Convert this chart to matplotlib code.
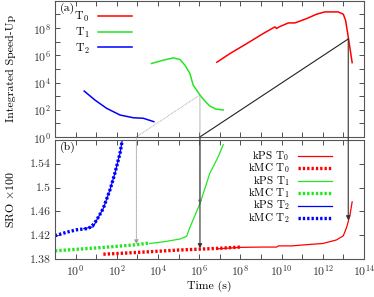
import numpy as np
import matplotlib
matplotlib.use("Agg")
import matplotlib.pyplot as plt
from matplotlib.patches import ConnectionPatch

plt.rcParams["font.family"] = ["cmr10", "DejaVu Serif"]
plt.rcParams["mathtext.fontset"] = "cm"
plt.rcParams["axes.unicode_minus"] = False
plt.rcParams["axes.formatter.use_mathtext"] = True

# --- panel (a): integrated speed-up, log10(time) / log10(speed-up) ---
t0_logt = [6.86, 7.5, 8.31, 9.11, 9.68, 9.76, 9.9, 10.33, 10.65, 11.22, 11.7, 12.1, 12.75, 13.0, 13.11, 13.24, 13.43]
t0_logsu = [5.49, 6.13, 6.86, 7.6, 8.09, 7.97, 8.1, 8.38, 8.38, 8.7, 9.02, 9.19, 9.19, 9.02, 8.57, 7.35, 5.46]
t1_logt = [3.69, 4.26, 4.74, 5.07, 5.31, 5.55, 5.71, 6.04, 6.3, 6.52, 6.8, 7.17]
t1_logsu = [5.4, 5.64, 5.81, 5.69, 5.27, 4.67, 3.81, 3.08, 2.6, 2.27, 2.05, 1.98]
t2_logt = [0.42, 0.94, 1.51, 2.16, 2.8, 3.29, 3.8]
t2_logsu = [3.37, 2.71, 2.1, 1.61, 1.41, 1.37, 1.12]

# --- panel (b): SRO x 100 ---
kps_t0_logt = [6.86, 8.0, 9.0, 9.76, 9.85, 10.5, 11.2, 12.0, 12.67, 13.0, 13.16, 13.32, 13.43]
kps_t0_sro = [1.397, 1.3995, 1.400, 1.400, 1.402, 1.402, 1.404, 1.406, 1.412, 1.419, 1.433, 1.453, 1.476]
kmc_t0_logt = [1.35, 3.0, 5.0, 7.0, 7.98]
kmc_t0_sro = [1.388, 1.391, 1.395, 1.398, 1.400]
kps_t1_logt = [3.6, 4.3, 5.07, 5.39, 5.55, 6.04, 6.52, 6.93, 7.17]
kps_t1_sro = [1.406, 1.409, 1.4135, 1.418, 1.433, 1.473, 1.524, 1.552, 1.572]
kmc_t1_logt = [-1.0, 1.18, 2.97, 3.6]
kmc_t1_sro = [1.3937, 1.399, 1.404, 1.407]
kps_t2_logt = [0.4, 0.86, 1.02, 1.34, 1.67, 1.91, 2.16, 2.27]
kps_t2_sro = [1.431, 1.434, 1.445, 1.4645, 1.496, 1.524, 1.558, 1.58]
kmc_t2_logt = [-1.0, -0.43, 0.05, 0.54, 0.77, 1.02, 1.34, 1.67, 1.91, 2.16, 2.27]
kmc_t2_sro = [1.419, 1.425, 1.429, 1.431, 1.434, 1.445, 1.4645, 1.496, 1.524, 1.558, 1.58]

# speed-up reference lines (speed-up = t / t_kMC), log10 of start and end time
ref_gray_logt = [2.95, 6.04]
ref_black_logt = [6.04, 13.24]

# connecting arrows: log10(t), start speed-up in (a), end SRO in (b)
arrow_logt = [2.95, 6.04, 6.04, 13.24]
arrow_start_logsu = [0.0, 3.08, 0.0, 7.24]
arrow_end_sro = [1.405, 1.472, 1.398, 1.445]
arrow_solid = [False, False, True, True]

sro_ticks = [1.38, 1.42, 1.46, 1.5, 1.54]
sro_labels = ["1.38", "1.42", "1.46", "1.5", "1.54"]

RED, GREEN, BLUE = "#ff0000", "#22e622", "#0000ff"
FS = 8.5
DOT = (0, (0.7, 0.6))


def p10(v):
    return 10.0 ** np.asarray(v)


def style_xlog(ax, labels):
    ax.set_xscale("log")
    ax.set_xlim(1e-1, 1e14)
    ax.set_xticks([10.0 ** k for k in range(0, 15, 2)])
    ax.set_xticks([10.0 ** k for k in range(-1, 15)], minor=True)
    if labels:
        ax.set_xticklabels([f"$10^{{{k}}}$" for k in range(0, 15, 2)])
    else:
        ax.set_xticklabels([])
    ax.set_xticklabels([], minor=True)


fig = plt.figure(figsize=(3.74, 2.97), dpi=100)
axa = fig.add_axes([0.147, 0.539, 0.826, 0.458])
axb = fig.add_axes([0.147, 0.128, 0.826, 0.401])

for ax in (axa, axb):
    ax.tick_params(which="both", direction="in", top=True, right=True,
                   labelsize=FS, colors="#333333", width=0.6, pad=3)
    ax.tick_params(which="major", length=3.5)
    ax.tick_params(which="minor", length=3.5)
    for s in ax.spines.values():
        s.set_linewidth(0.8)
        s.set_color("#555555")

# panel (a)
axa.plot(p10(t0_logt), p10(t0_logsu), color=RED, lw=1.1, label="T$_0$")
axa.plot(p10(t1_logt), p10(t1_logsu), color=GREEN, lw=1.1, label="T$_1$")
axa.plot(p10(t2_logt), p10(t2_logsu), color=BLUE, lw=1.1, label="T$_2$")
g = p10(ref_gray_logt)
axa.plot(g, g / g[0], color="#999999", lw=0.6, ls=(0, (1, 1)))
b = p10(ref_black_logt)
axa.plot(b, b / b[0], color="#222222", lw=0.8)
style_xlog(axa, False)
axa.set_yscale("log")
axa.set_ylim(1, 1e10)
axa.set_yticks([10.0 ** k for k in range(0, 9, 2)])
axa.set_yticklabels([f"$10^{{{k}}}$" for k in range(0, 9, 2)])
axa.set_yticks([10.0 ** k for k in range(0, 11)], minor=True)
axa.set_yticklabels([], minor=True)
axa.set_ylabel("Integrated Speed-Up", fontsize=FS)
axa.yaxis.set_label_coords(-0.125, 0.5)
axa.text(0.015, 0.985, "(a)", transform=axa.transAxes, fontsize=FS, va="top")
axa.legend(loc="upper left", bbox_to_anchor=(0.04, 0.985), frameon=False,
           markerfirst=False, fontsize=FS, handlelength=2.9,
           labelspacing=0.15, borderaxespad=0.2, handletextpad=0.7)

# panel (b)
lines_b = [
    axb.plot(p10(kps_t0_logt), kps_t0_sro, color=RED, lw=0.9, label="kPS T$_0$")[0],
    axb.plot(p10(kmc_t0_logt), kmc_t0_sro, color=RED, lw=2.4, ls=DOT, label="kMC T$_0$")[0],
    axb.plot(p10(kps_t1_logt), kps_t1_sro, color=GREEN, lw=0.9, label="kPS T$_1$")[0],
    axb.plot(p10(kmc_t1_logt), kmc_t1_sro, color=GREEN, lw=2.4, ls=DOT, label="kMC T$_1$")[0],
    axb.plot(p10(kps_t2_logt), kps_t2_sro, color=BLUE, lw=0.9, label="kPS T$_2$")[0],
    axb.plot(p10(kmc_t2_logt), kmc_t2_sro, color=BLUE, lw=2.4, ls=DOT, label="kMC T$_2$")[0],
]
style_xlog(axb, True)
axb.set_ylim(1.38, 1.58)
axb.set_yticks(sro_ticks)
axb.set_yticklabels(sro_labels)
axb.set_ylabel(r"SRO $\times 100$", fontsize=FS)
axb.yaxis.set_label_coords(-0.125, 0.5)
axb.set_xlabel("Time (s)", fontsize=FS, labelpad=2)
axb.text(0.015, 0.985, "(b)", transform=axb.transAxes, fontsize=FS, va="top")

# gnuplot-style key: right-justified labels, sample line to the right
key_top, key_step = 0.865, 0.104
for i, ln in enumerate(lines_b):
    yk = key_top - i * key_step
    axb.text(0.760, yk, ln.get_label(), transform=axb.transAxes,
             ha="right", va="center", fontsize=8)
    axb.plot([0.786, 0.896], [yk, yk], transform=axb.transAxes,
             color=ln.get_color(), lw=ln.get_linewidth(),
             ls=ln.get_linestyle() if ln.get_linestyle() == "-" else DOT,
             clip_on=False)

# connecting arrows between panels
for lt, su, sro, solid in zip(arrow_logt, arrow_start_logsu, arrow_end_sro, arrow_solid):
    x = 10.0 ** lt
    con = ConnectionPatch(xyA=(x, 10.0 ** su), coordsA=axa.transData,
                          xyB=(x, sro), coordsB=axb.transData,
                          arrowstyle="-|>", mutation_scale=6,
                          color="#333333" if solid else "#999999",
                          lw=0.8 if solid else 0.6,
                          ls="-" if solid else (0, (1, 1)), zorder=5)
    fig.add_artist(con)

fig.savefig("out.png", dpi=100)
